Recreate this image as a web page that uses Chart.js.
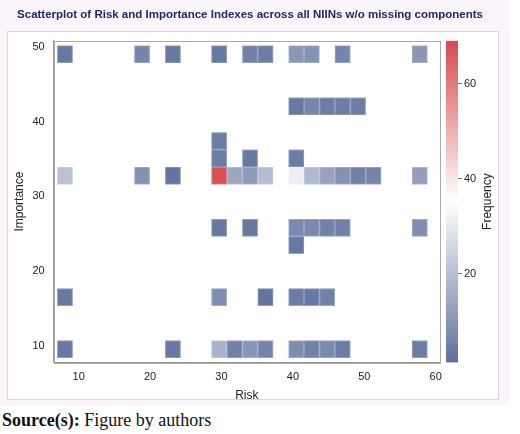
<!DOCTYPE html>
<html>
<head>
<meta charset="utf-8">
<script src="https://cdn.jsdelivr.net/npm/chart.js@4/dist/chart.umd.min.js"></script>
<style>
  body { margin: 0; width: 520px; height: 434px; background: #fff; position: relative; font-family: Arial, "Liberation Sans", sans-serif; }
  .page { position: absolute; left: 0; top: 0; width: 510px; height: 405px; background: #fcf4fb; }
  .frame { position: absolute; left: 7px; top: 31px; width: 490px; height: 367px; border: 1px solid #d8d4d8; background: #fff; }
  .wrap { position: absolute; left: 0; top: 0; width: 520px; height: 405px; }
  .source { position: absolute; left: 2px; top: 410px; font-family: "Liberation Serif", "DejaVu Serif", serif; font-size: 18px; color: #111; }
</style>
</head>
<body>
<div class="page"></div>
<div class="frame"></div>
<div class="wrap"><canvas id="chart" width="520" height="405"></canvas></div>
<div class="source"><b>Source(s):</b> Figure by authors</div>
<script>
// bin grid
const riskBinStart = 7.0;
const riskBinWidth = 2.16;
const impBinStart = 8.4;
const impBinWidth = 2.32;

// cells: column index, row index, frequency
const cellCol = [0, 5, 7, 10, 12, 13, 15, 16, 18, 23,
                 15, 16, 17, 18, 19,
                 10,
                 10, 12, 15,
                 0, 5, 7, 10, 11, 12, 13, 15, 16, 17, 18, 19, 20, 23,
                 10, 12, 15, 16, 17, 18, 23,
                 15,
                 0, 10, 13, 15, 16, 17,
                 0, 7, 10, 11, 12, 13, 15, 16, 17, 18, 23];
const cellRow = [17, 17, 17, 17, 17, 17, 17, 17, 17, 17,
                 14, 14, 14, 14, 14,
                 12,
                 11, 11, 11,
                 10, 10, 10, 10, 10, 10, 10, 10, 10, 10, 10, 10, 10, 10,
                 7, 7, 7, 7, 7, 7, 7,
                 6,
                 3, 3, 3, 3, 3, 3,
                 0, 0, 0, 0, 0, 0, 0, 0, 0, 0, 0];
const cellFreq = [3, 6, 3, 3, 5, 4, 10, 9, 6, 10,
                  3, 6, 4, 4, 4,
                  4,
                  4, 3, 4,
                  20, 9, 2, 68, 14, 11, 19, 31, 18, 13, 9, 5, 6, 12,
                  3, 3, 7, 7, 5, 5, 8,
                  3,
                  3, 8, 2, 4, 3, 5,
                  3, 3, 17, 5, 10, 6, 8, 5, 7, 4, 4];
const freqTicks = [20, 40, 60];

const freqMin = 1, freqMid = 35, freqMax = 69;
const lowColor = [94, 112, 156], midColor = [255, 255, 255], highColor = [216, 74, 78];

function freqColor(f) {
  let a, b, t;
  if (f <= freqMid) { a = lowColor; b = midColor; t = (f - freqMin) / (freqMid - freqMin); }
  else { a = midColor; b = highColor; t = (f - freqMid) / (freqMax - freqMid); }
  t = Math.max(0, Math.min(1, t));
  const c = a.map((v, i) => Math.round(v + (b[i] - v) * t));
  return 'rgb(' + c.join(',') + ')';
}

const cellsPlugin = {
  id: 'cells',
  beforeDatasetsDraw(chart) {
    const { ctx, scales: { x, y, cb }, chartArea } = chart;
    ctx.save();
    ctx.beginPath();
    ctx.rect(chartArea.left, chartArea.top, chartArea.width, chartArea.height);
    ctx.clip();
    for (let i = 0; i < cellCol.length; i++) {
      const r0 = riskBinStart + cellCol[i] * riskBinWidth;
      const i0 = impBinStart + cellRow[i] * impBinWidth;
      const px0 = x.getPixelForValue(r0), px1 = x.getPixelForValue(r0 + riskBinWidth);
      const py0 = y.getPixelForValue(i0 + impBinWidth), py1 = y.getPixelForValue(i0);
      ctx.fillStyle = freqColor(cellFreq[i]);
      ctx.fillRect(px0, py0, px1 - px0, py1 - py0);
      ctx.strokeStyle = 'rgba(255,255,255,0.2)';
      ctx.lineWidth = 1;
      ctx.strokeRect(px0 + 0.5, py0 + 0.5, px1 - px0 - 1, py1 - py0 - 1);
    }
    ctx.restore();
    // plot box
    ctx.save();
    ctx.strokeStyle = '#aaa';
    ctx.strokeRect(Math.round(chartArea.left) + 0.5, Math.round(chartArea.top) + 0.5,
      Math.round(chartArea.width), Math.round(chartArea.height));
    ctx.restore();
    // colour bar
    ctx.save();
    const top = cb.getPixelForValue(freqMax), bot = cb.getPixelForValue(freqMin);
    const bx = chartArea.right + 6;
    const g = ctx.createLinearGradient(0, bot, 0, top);
    g.addColorStop(0, freqColor(freqMin));
    g.addColorStop((freqMid - freqMin) / (freqMax - freqMin), freqColor(freqMid));
    g.addColorStop(1, freqColor(freqMax));
    ctx.fillStyle = g;
    ctx.fillRect(bx, top, 12, bot - top);
    ctx.strokeStyle = '#777';
    ctx.fillStyle = '#222';
    ctx.font = '11px Arial, "Liberation Sans", sans-serif';
    ctx.textBaseline = 'middle';
    ctx.beginPath();
    freqTicks.forEach(v => {
      const py = Math.round(cb.getPixelForValue(v)) + 0.5;
      ctx.moveTo(bx + 12, py); ctx.lineTo(bx + 16, py);
      ctx.fillText(String(v), bx + 18, py);
    });
    ctx.stroke();
    ctx.translate(bx + 42, (top + bot) / 2);
    ctx.rotate(-Math.PI / 2);
    ctx.textAlign = 'center';
    ctx.font = '12px Arial, "Liberation Sans", sans-serif';
    ctx.fillText('Frequency', 0, 0);
    ctx.restore();
  }
};

new Chart(document.getElementById('chart'), {
  type: 'scatter',
  data: { datasets: [{ data: [] }] },
  plugins: [cellsPlugin],
  options: {
    responsive: false,
    animation: false,
    layout: { padding: { left: 10, right: 30, top: 0, bottom: 0 } },
    plugins: {
      legend: { display: false },
      tooltip: { enabled: false },
      title: {
        display: true,
        text: 'Scatterplot of Risk and Importance Indexes across all NIINs w/o missing components',
        color: '#1e2a6e',
        font: { size: 11.5, weight: 'bold', family: 'Arial, "Liberation Sans", sans-serif' },
        padding: { top: 8, bottom: 19 }
      }
    },
    scales: {
      x: {
        type: 'linear', min: 6.5, max: 60.6,
        afterBuildTicks: s => { s.ticks = [10, 20, 30, 40, 50, 60].map(v => ({ value: v })); },
        ticks: { color: '#222', font: { size: 11 }, padding: 3 },
        grid: { display: false, drawTicks: true, tickLength: 5, tickColor: '#888' },
        border: { color: '#999' },
        title: { display: true, text: 'Risk', color: '#222', font: { size: 12 }, padding: 2 }
      },
      y: {
        type: 'linear', min: 7.8, max: 50.8,
        afterBuildTicks: s => { s.ticks = [10, 20, 30, 40, 50].map(v => ({ value: v })); },
        ticks: { color: '#222', font: { size: 11 }, padding: 4 },
        grid: { display: false, drawTicks: true, tickLength: 5, tickColor: '#888' },
        border: { color: '#999' },
        title: { display: true, text: 'Importance', color: '#222', font: { size: 12 }, padding: 2 }
      },
      cb: {
        type: 'linear', position: 'right', min: freqMin, max: freqMax,
        afterFit: s => { s.width = 50; },
        ticks: { display: false },
        grid: { display: false, drawTicks: false },
        border: { display: false }
      }
    }
  }
});
</script>
</body>
</html>
